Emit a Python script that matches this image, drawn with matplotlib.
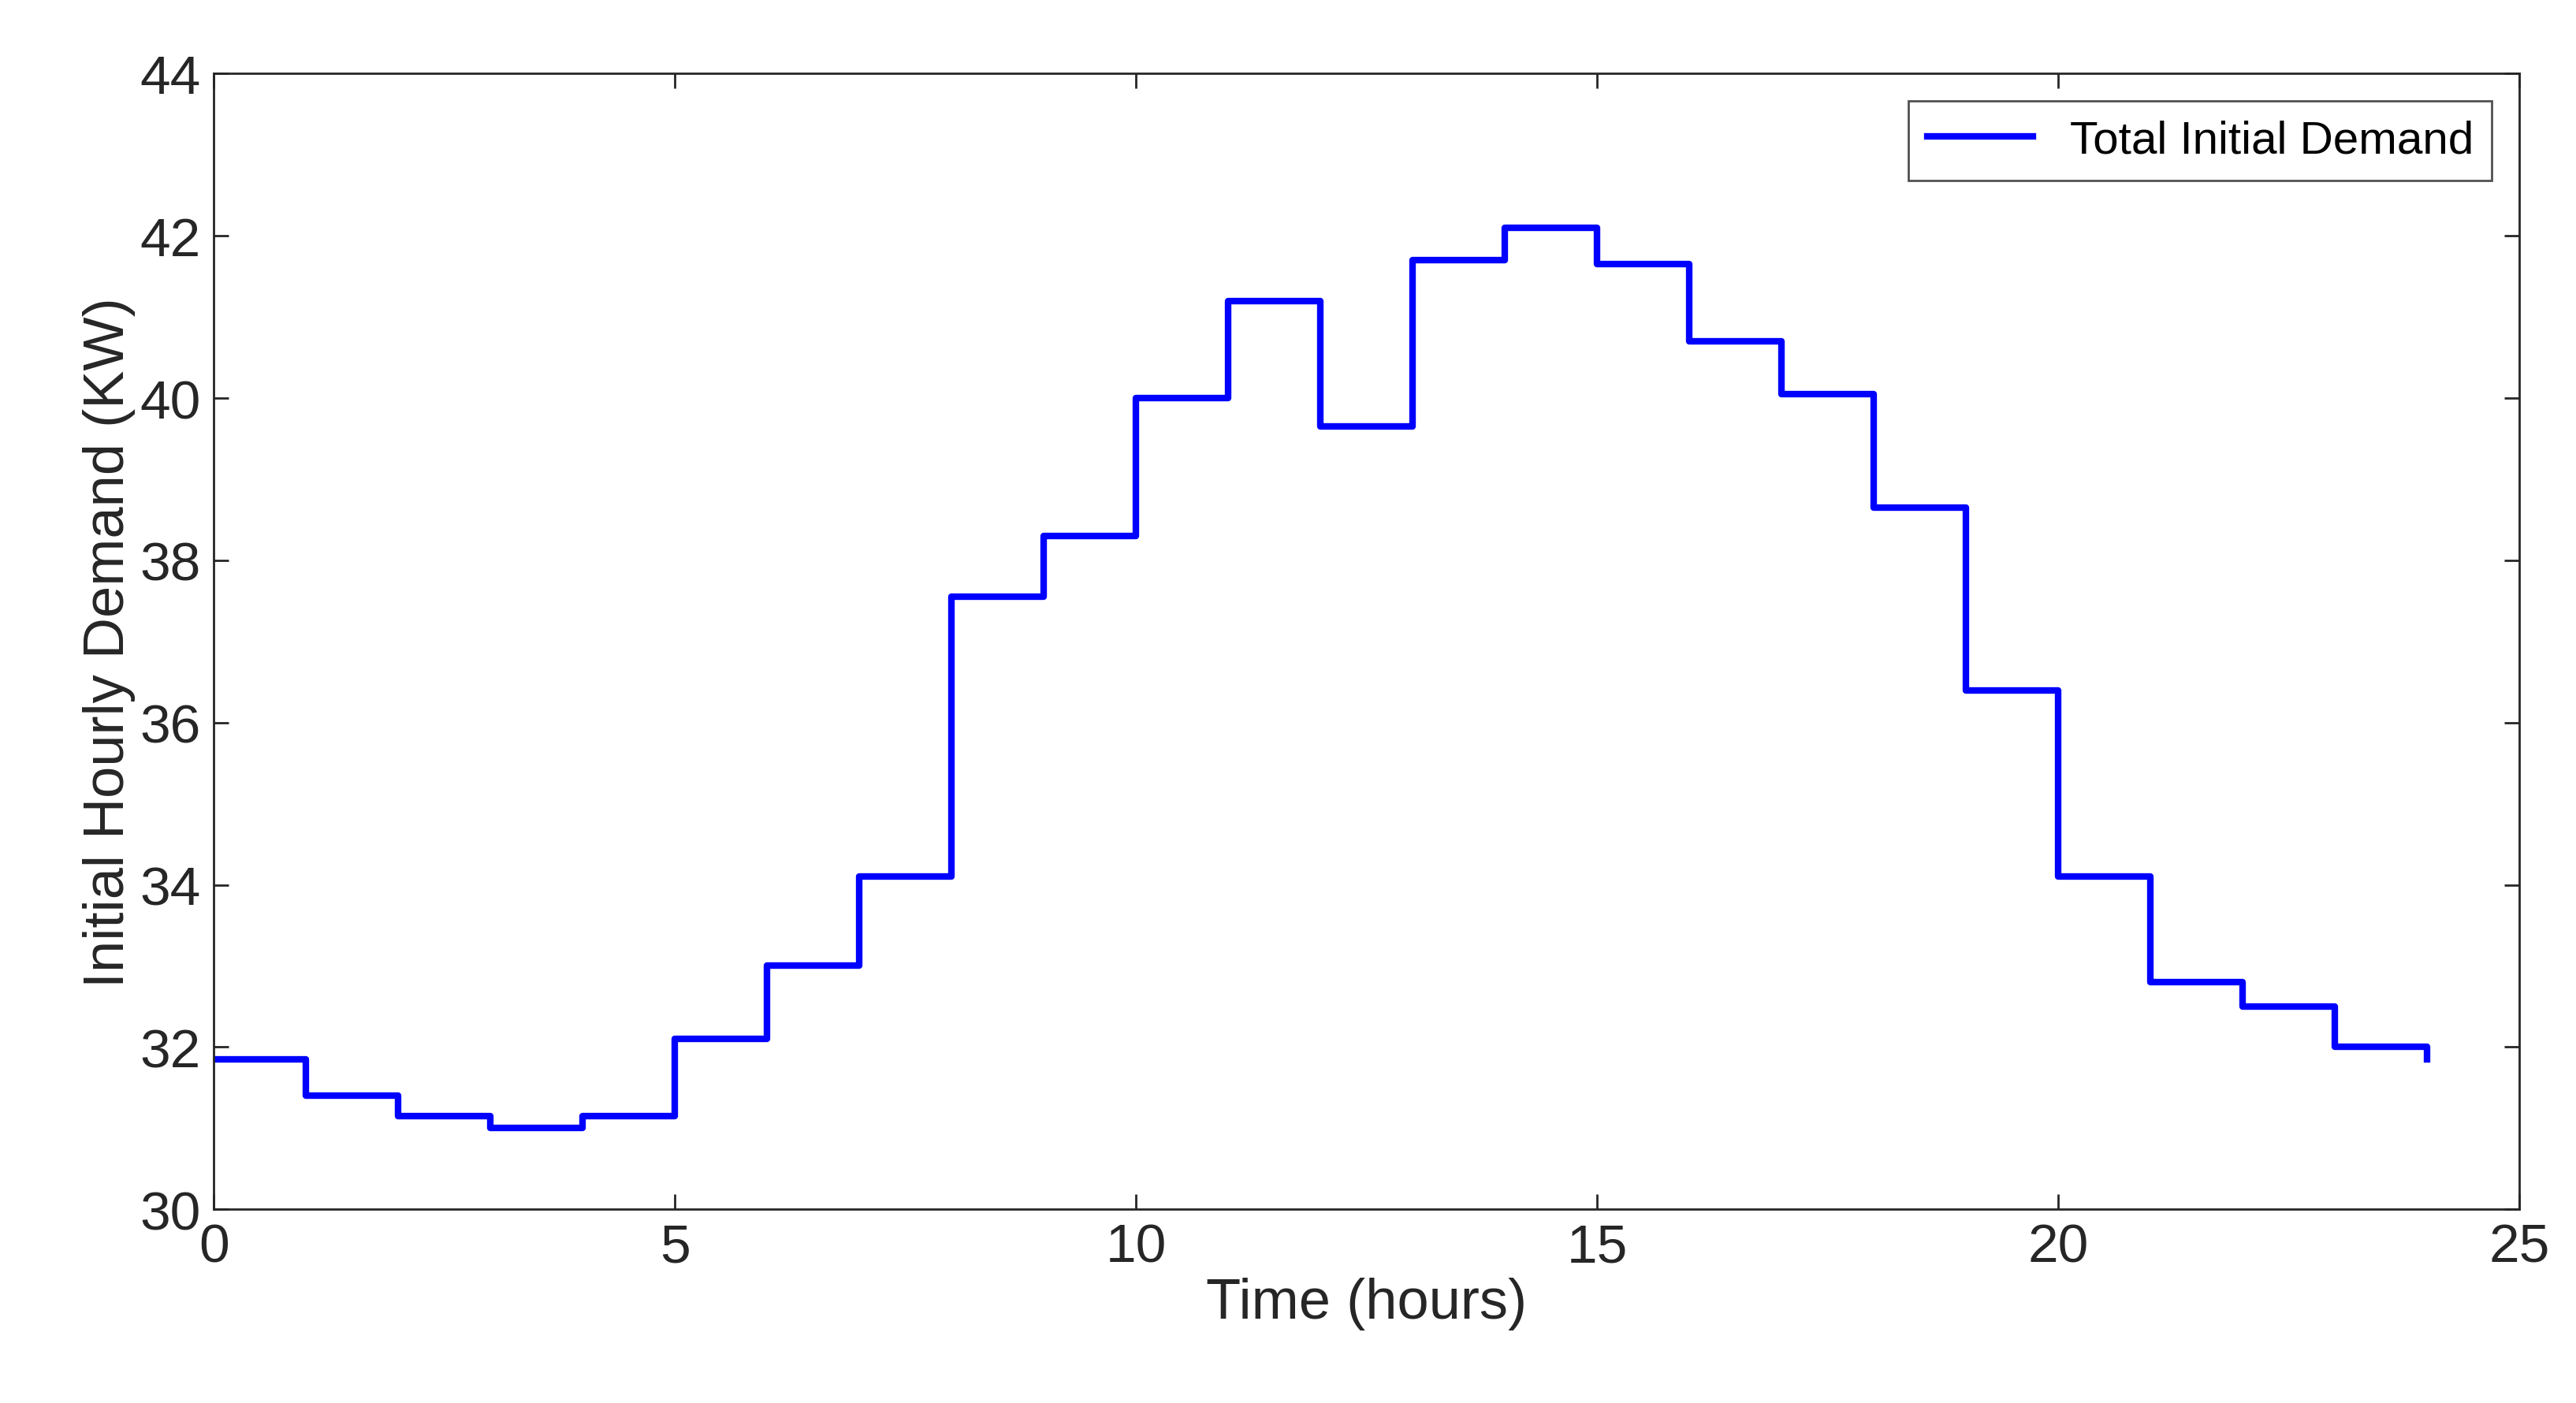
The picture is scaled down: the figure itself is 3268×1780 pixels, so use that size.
import matplotlib
matplotlib.use("Agg")
import matplotlib.pyplot as plt

plt.rcParams['font.family'] = ['Liberation Sans', 'DejaVu Sans']

hours = list(range(25))
demand = [31.85, 31.4, 31.15, 31.0, 31.15, 32.1, 33.0, 34.1, 37.55, 38.3,
          40.0, 41.2, 39.65, 41.7, 42.1, 41.65, 40.7, 40.05, 38.65, 36.4,
          34.1, 32.8, 32.5, 32.0, 31.85]

fig = plt.figure(figsize=(32.68, 17.81), dpi=100)
ax = fig.add_axes([0.083, 0.138, 0.895, 0.809])
ax.step(hours, demand, where='post', color='#0000ff', lw=6, label='Total Initial Demand')

ax.set_xlim(0, 25)
ax.set_ylim(30, 44)
ax.set_xticks([0, 5, 10, 15, 20, 25])
ax.set_yticks(range(30, 45, 2))
ax.tick_params(labelsize=50, direction='in', length=14, width=2, colors='#262626',
               top=True, right=True, pad=12)
for s in ax.spines.values():
    s.set_linewidth(2)
    s.set_color('#262626')
ax.set_xlabel('Time (hours)', fontsize=52, color='#262626')
ax.set_ylabel('Initial Hourly Demand (KW)', fontsize=52, color='#262626')
leg = ax.legend(loc='upper right', fontsize=42, fancybox=False, edgecolor='#262626',
                handlelength=2.3, borderaxespad=0.6)
leg.get_frame().set_linewidth(2)

fig.savefig('out.png', dpi=100)
